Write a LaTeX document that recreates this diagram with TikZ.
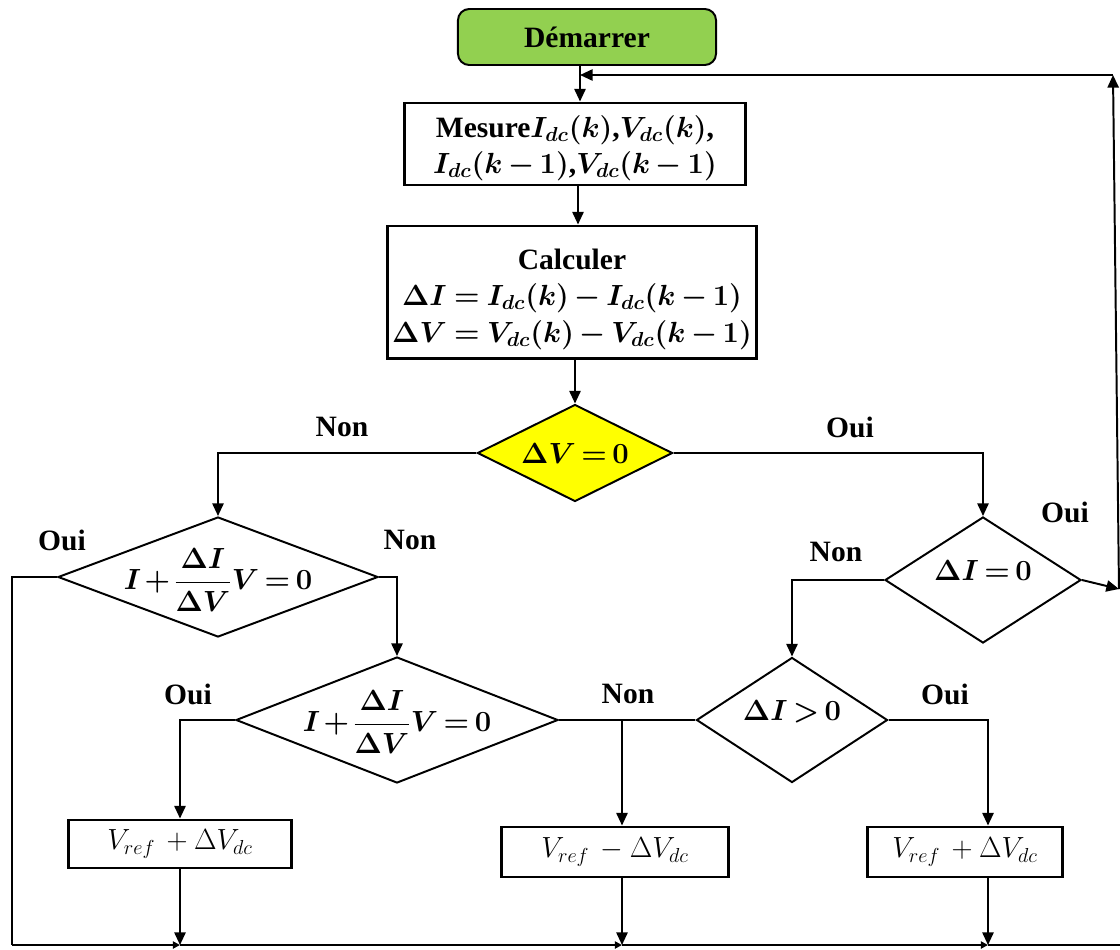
\documentclass[tikz,border=0pt]{standalone}
\usepackage{amsmath}
\usepackage{fontspec}
\setmainfont{Liberation Serif}
\usetikzlibrary{shapes.geometric,arrows.meta}
\newcommand\tightA{\thickmuskip=4mu plus 2mu\relax\medmuskip=3mu plus 1mu\relax}
\newcommand\tightB{\thickmuskip=3mu plus 1mu\relax\medmuskip=2mu plus 1mu\relax}
\begin{document}
\begin{tikzpicture}[x=0.025cm,y=-0.025cm,
  line/.style={line width=1.4pt},
  arr/.style={line width=1.4pt,-{Triangle[length=9pt,width=8pt]}},
  smallarr/.style={line width=1.4pt,-{Triangle[length=5pt,width=5pt]}},
  box/.style={draw,line width=2.1pt,inner sep=0pt,align=center},
  dec/.style={draw,diamond,line width=1.4pt,inner sep=0pt},
  lbl/.style={font=\fontsize{21}{25}\selectfont\bfseries},
  big/.style={font=\fontsize{21}{26}\selectfont\bfseries\boldmath\tightA},
  dtext/.style={inner sep=0pt,font=\fontsize{21}{25}\selectfont\bfseries\boldmath\tightB},
  res/.style={font=\fontsize{21}{25}\selectfont}
]
\useasboundingbox (0,0) rectangle (1120,949);
\definecolor{startgreen}{RGB}{146,208,80}
\definecolor{decyellow}{RGB}{255,255,0}

% nodes
\node[box,fill=startgreen,rounded corners=8pt,line width=1.4pt,minimum width=6.45cm,minimum height=1.4cm,big] (start) at (587,37) {Démarrer};
\node[box,minimum width=8.5cm,minimum height=2.05cm,big] (mes) at (575,144) {};
\node[big,align=center,inner sep=0pt] (mest) at (575,148)
  {Mesure$I_{dc}(k)$,$V_{dc}(k)$,\\$I_{dc}(k-1)$,$V_{dc}(k-1)$};
\node[box,minimum width=9.2cm,minimum height=3.3cm,big] (calc) at (572,292) {};
\node[big,align=center,inner sep=0pt] (calct) at (572,299)
  {Calculer\\$\Delta I=I_{dc}(k)-I_{dc}(k-1)$\\$\Delta V=V_{dc}(k)-V_{dc}(k-1)$};
\node[dec,fill=decyellow,minimum width=4.875cm,minimum height=2.425cm] (d1) at (575,453) {};
\node[dtext] (t1) at (d1) {$\Delta V=0$};
\node[dec,minimum width=8cm,minimum height=3cm] (d2) at (218,577) {};
\node[dtext] (t2) at (218,580) {$I+\dfrac{\Delta I}{\Delta V}V=0$};
\node[dec,minimum width=8.05cm,minimum height=3.15cm] (d3) at (397,720) {};
\node[dtext] (t3) at (397,722) {$I+\dfrac{\Delta I}{\Delta V}V=0$};
\node[dec,minimum width=4.9cm,minimum height=3.15cm] (d4) at (983,580) {};
\node[dtext] (t4) at (983,570) {$\Delta I=0$};
\node[dec,minimum width=4.775cm,minimum height=3.125cm] (d5) at (792,720) {};
\node[dtext] (t5) at (792,712) {$\Delta I>0$};
\node[box,minimum width=5.575cm,minimum height=1.2cm,res] (bL) at (180,844) {$V_{ref}\,+\Delta V_{dc}$};
\node[box,minimum width=5.65cm,minimum height=1.25cm,res] (bM) at (615,852) {$V_{ref}\,-\Delta V_{dc}$};
\node[box,minimum width=4.875cm,minimum height=1.25cm,res] (bR) at (965,852) {$V_{ref}\,+\Delta V_{dc}$};

% labels
\node[lbl] (n1) at (342,427) {Non};
\node[lbl] (o1) at (850,427) {Oui};
\node[lbl] (o2) at (62,540) {Oui};
\node[lbl] (n2) at (410,540) {Non};
\node[lbl] (n4) at (836,552) {Non};
\node[lbl] (o4) at (1065,512) {Oui};
\node[lbl] (o3) at (188,694) {Oui};
\node[lbl] (n3) at (628,694) {Non};
\node[lbl] (o5) at (945,694) {Oui};

% coordinates
\coordinate (m) at (580,75);
\coordinate (rc1) at (1119,589);
\coordinate (rc2) at (1113,75);
\coordinate (bl) at (12,945);
\coordinate (b1) at (180,945);
\coordinate (b2) at (622,945);
\coordinate (b3) at (988,945);
\coordinate (br) at (1120,945);
\coordinate (j) at (622,719);

% connectors
\draw[line] (start.south -| m) -- (m);
\draw[arr] (m) -- (mes.north -| m);
\draw[arr] (mes.south -| 578,0) -- (calc.north -| 578,0);
\draw[arr] (calc.south -| d1.north) -- (d1.north);
\draw[arr] (d1.west) -| (d2.north);
\draw[arr] (d1.east) -| (d4.north);
\draw[line] (d2.west) -| (bl);
\draw[arr] (d2.east) -| (d3.north);
\draw[arr] (d3.west) -| (bL.north);
\draw[line] (d3.east) -- (d5.west);
\draw[arr] (j) -- (j |- bM.north);
\draw[arr] (d4.west) -| (d5.north);
\draw[arr] (d5.east) -| (b3 |- bR.north);
\draw[arr] (d4.east) -- (rc1);
\draw[arr] (rc1) -- (rc2);
\draw[arr] (rc2) -- (m);
\draw[arr] (bL.south) -- (b1);
\draw[arr] (b2 |- bM.south) -- (b2);
\draw[arr] (b3 |- bR.south) -- (b3);
\draw[smallarr] (bl) -- (b1);
\draw[smallarr] (b1) -- (b2);
\draw[smallarr] (b2) -- (b3);
\draw[line] (b3) -- (br);
\end{tikzpicture}
\end{document}
